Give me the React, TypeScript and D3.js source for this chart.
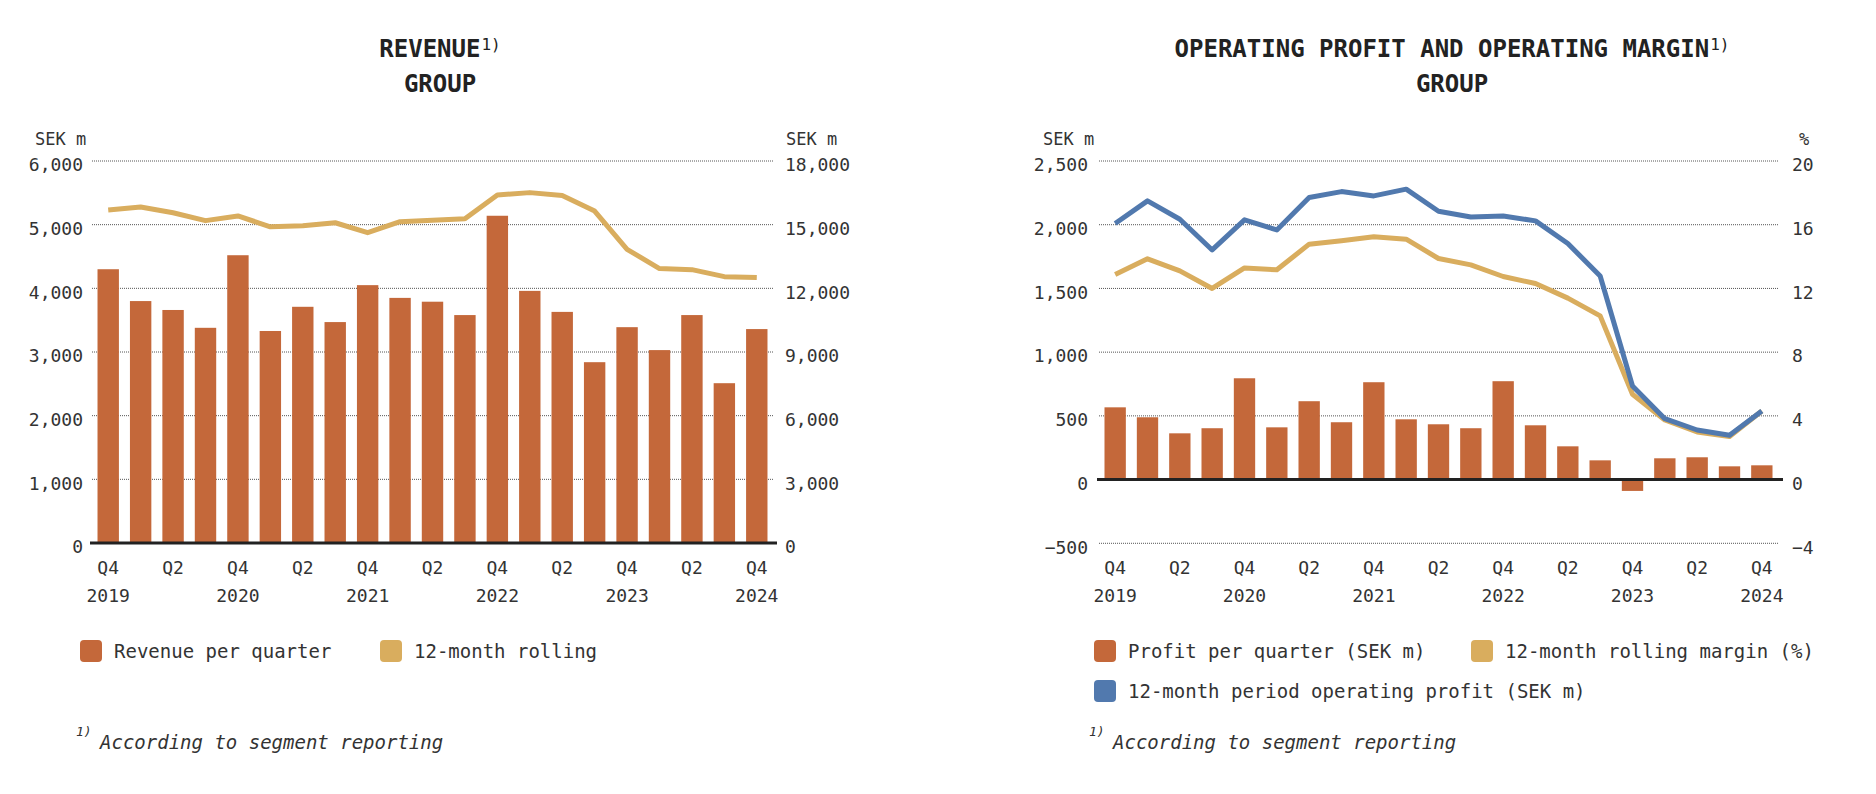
import React from 'react';
import * as d3 from 'd3';

// quarters shown on both charts
const quarters = [
  'Q4 2019', 'Q1 2020', 'Q2 2020', 'Q3 2020', 'Q4 2020', 'Q1 2021', 'Q2 2021',
  'Q3 2021', 'Q4 2021', 'Q1 2022', 'Q2 2022', 'Q3 2022', 'Q4 2022', 'Q1 2023',
  'Q2 2023', 'Q3 2023', 'Q4 2023', 'Q1 2024', 'Q2 2024', 'Q3 2024', 'Q4 2024',
];

// revenue, SEK m
const revenuePerQuarter = [4300, 3800, 3660, 3380, 4520, 3330, 3710, 3470, 4050, 3850, 3790, 3580, 5140, 3960, 3630, 2840, 3390, 3030, 3580, 2510, 3360];
const revenueRolling = [15690, 15830, 15560, 15190, 15410, 14900, 14950, 15090, 14620, 15140, 15210, 15280, 16400, 16510, 16370, 15640, 13840, 12930, 12880, 12550, 12510];

// operating profit, SEK m and margin %
const profitPerQuarter = [567, 489, 363, 403, 795, 410, 615, 450, 764, 473, 434, 403, 772, 426, 261, 151, -89, 167, 175, 104, 112];
const profitRolling = [2009, 2187, 2043, 1802, 2038, 1959, 2213, 2260, 2226, 2279, 2106, 2061, 2069, 2030, 1852, 1598, 735, 478, 389, 348, 539];
const marginRolling = [12.88, 13.86, 13.1, 12.0, 13.29, 13.17, 14.78, 14.99, 15.24, 15.09, 13.88, 13.48, 12.75, 12.31, 11.39, 10.28, 5.36, 3.74, 2.99, 2.7, 4.3];

const revenueTicks = [0, 1000, 2000, 3000, 4000, 5000, 6000];
const revenueRightTicks = [0, 3000, 6000, 9000, 12000, 15000, 18000];
const profitTicks = [-500, 0, 500, 1000, 1500, 2000, 2500];
const marginTicks = [-4, 0, 4, 8, 12, 16, 20];

const BAR = '#c4683a';
const GOLD = '#d9ad5e';
const BLUE = '#5179ae';
const TEXT = '#333';
const FONT = '"DejaVu Sans Mono", monospace';

const fmt = (v: number) => (v < 0 ? '\u2212' : '') + d3.format(',')(Math.abs(v));

function XLabels({ x, y0 }: { x: d3.ScaleBand<string>; y0: number }) {
  return (
    <g fontSize={18} fill={TEXT} textAnchor="middle">
      {quarters.map((q, i) => {
        if (i % 2) return null;
        const [qq, year] = q.split(' ');
        const cx = (x(q) as number) + x.bandwidth() / 2;
        return (
          <g key={q}>
            <text x={cx} y={y0} dy="0.35em">{qq}</text>
            {qq === 'Q4' && <text x={cx} y={y0 + 28} dy="0.35em">{year}</text>}
          </g>
        );
      })}
    </g>
  );
}

function Grid({ ticks, y, x0, x1 }: { ticks: number[]; y: d3.ScaleLinear<number, number>; x0: number; x1: number }) {
  return (
    <g>
      {ticks.filter(t => t !== 0).map(t => (
        <line key={t} x1={x0} x2={x1} y1={y(t)} y2={y(t)} stroke="#555" strokeWidth={1} strokeDasharray="1 1" />
      ))}
    </g>
  );
}

function Title({ cx, line1 }: { cx: number; line1: string }) {
  return (
    <g fill="#222" fontWeight="bold" textAnchor="middle">
      <text x={cx} y={49} dy="0.35em" fontSize={24}>
        {line1}
        <tspan fontSize={16} fontWeight="normal" dy="-0.45em" dx="1">1)</tspan>
      </text>
      <text x={cx} y={84} dy="0.35em" fontSize={24}>GROUP</text>
    </g>
  );
}

function LegendItem({ x, y, color, label }: { x: number; y: number; color: string; label: string }) {
  return (
    <g>
      <rect x={x} y={y - 11} width={22} height={22} rx={4} fill={color} />
      <text x={x + 34} y={y} dy="0.35em" fontSize={19} fill={TEXT}>{label}</text>
    </g>
  );
}

function Footnote({ x }: { x: number }) {
  return (
    <g fill={TEXT}>
      <text x={x} y={736} fontSize={13} fontStyle="italic">1)</text>
      <text x={x + 24} y={742} dy="0.35em" fontSize={19} fontStyle="italic">According to segment reporting</text>
    </g>
  );
}

function RevenueChart() {
  const x0 = 92, x1 = 773;
  const x = d3.scaleBand<string>().domain(quarters).range([x0, x1]).paddingInner(0.34).paddingOuter(0.17);
  const y = d3.scaleLinear().domain([0, 6000]).range([543, 161]);
  const y2 = d3.scaleLinear().domain([0, 18000]).range([543, 161]);
  const cx = (i: number) => (x(quarters[i]) as number) + x.bandwidth() / 2;
  const line = d3.line<number>().x((_, i) => cx(i)).y(d => y2(d));

  return (
    <g>
      <Title cx={440} line1="REVENUE" />
      <text x={35} y={139} dy="0.35em" fontSize={17} fill={TEXT}>SEK m</text>
      <text x={786} y={139} dy="0.35em" fontSize={17} fill={TEXT}>SEK m</text>
      <Grid ticks={revenueTicks} y={y} x0={x0} x1={x1} />
      <g fontSize={18} fill={TEXT}>
        {revenueTicks.map(t => (
          <text key={t} x={83} y={y(t) + 4} dy="0.35em" textAnchor="end">{fmt(t)}</text>
        ))}
        {revenueRightTicks.map(t => (
          <text key={t} x={785} y={y2(t) + 4} dy="0.35em">{fmt(t)}</text>
        ))}
      </g>
      {revenuePerQuarter.map((v, i) => (
        <rect key={i} x={x(quarters[i])} y={y(v)} width={x.bandwidth()} height={y(0) - y(v)} fill={BAR} />
      ))}
      <line x1={90} x2={777} y1={y(0)} y2={y(0)} stroke="#222" strokeWidth={3} />
      <path d={line(revenueRolling) as string} fill="none" stroke={GOLD} strokeWidth={5} strokeLinejoin="round" />
      <XLabels x={x} y0={568} />
      <LegendItem x={80} y={651} color={BAR} label="Revenue per quarter" />
      <LegendItem x={380} y={651} color={GOLD} label="12-month rolling" />
      <Footnote x={76} />
    </g>
  );
}

function ProfitChart() {
  const x0 = 1099, x1 = 1778;
  const x = d3.scaleBand<string>().domain(quarters).range([x0, x1]).paddingInner(0.34).paddingOuter(0.17);
  const y = d3.scaleLinear().domain([-500, 2500]).range([543.3, 161]);
  const y2 = d3.scaleLinear().domain([-4, 20]).range([543.3, 161]);
  const cx = (i: number) => (x(quarters[i]) as number) + x.bandwidth() / 2;
  const profitLine = d3.line<number>().x((_, i) => cx(i)).y(d => y(d));
  const marginLine = d3.line<number>().x((_, i) => cx(i)).y(d => y2(d));

  return (
    <g>
      <Title cx={1452} line1="OPERATING PROFIT AND OPERATING MARGIN" />
      <text x={1043} y={139} dy="0.35em" fontSize={17} fill={TEXT}>SEK m</text>
      <text x={1799} y={139} dy="0.35em" fontSize={17} fill={TEXT}>%</text>
      <Grid ticks={profitTicks} y={y} x0={x0} x1={x1} />
      <g fontSize={18} fill={TEXT}>
        {profitTicks.map(t => (
          <text key={t} x={1088} y={y(t) + 4} dy="0.35em" textAnchor="end">{fmt(t)}</text>
        ))}
        {marginTicks.map(t => (
          <text key={t} x={1792} y={y2(t) + 4} dy="0.35em">{fmt(t)}</text>
        ))}
      </g>
      {profitPerQuarter.map((v, i) => (
        <rect key={i} x={x(quarters[i])} y={Math.min(y(v), y(0))} width={x.bandwidth()} height={Math.abs(y(0) - y(v))} fill={BAR} />
      ))}
      <line x1={1097} x2={1783} y1={y(0)} y2={y(0)} stroke="#222" strokeWidth={3} />
      <path d={marginLine(marginRolling) as string} fill="none" stroke={GOLD} strokeWidth={5} strokeLinejoin="round" />
      <path d={profitLine(profitRolling) as string} fill="none" stroke={BLUE} strokeWidth={5} strokeLinejoin="round" />
      <XLabels x={x} y0={568} />
      <LegendItem x={1094} y={651} color={BAR} label="Profit per quarter (SEK m)" />
      <LegendItem x={1471} y={651} color={GOLD} label="12-month rolling margin (%)" />
      <LegendItem x={1094} y={691} color={BLUE} label="12-month period operating profit (SEK m)" />
      <Footnote x={1089} />
    </g>
  );
}

export default function App() {
  return (
    <svg
      width={1876}
      height={794}
      style={{ position: 'absolute', left: 0, top: 0, background: '#fff' }}
      fontFamily={FONT}
    >
      <RevenueChart />
      <ProfitChart />
    </svg>
  );
}
